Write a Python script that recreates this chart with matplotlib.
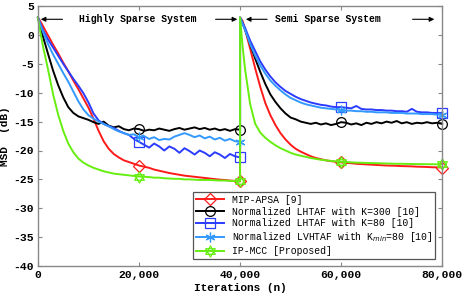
import numpy as np
import matplotlib
matplotlib.use("Agg")
from matplotlib import pyplot as plt
from matplotlib.path import Path

# iteration grid for one system (the second system is shifted by 40,000)
n_seg = [0, 500] + list(range(1000, 40001, 1000))

# MSD (dB), first system then second system
mip_apsa_1 = [3.0, 2.3, 1.5, -0.1, -1.7, -3.2, -4.8, -6.3, -7.9, -9.4, -11.0, -12.6, -14.5, -16.6,
              -18.4, -19.7, -20.6, -21.2, -21.7, -22.0, -22.3, -22.6, -22.8, -23.0, -23.3, -23.5,
              -23.7, -23.9, -24.05, -24.2, -24.35, -24.45, -24.55, -24.65, -24.75, -24.85, -24.95,
              -25.05, -25.1, -25.2, -25.25, -25.35]
mip_apsa_2 = [3.0, 2.4, 0.9, -2.4, -5.8, -9.0, -11.8, -13.9, -15.6, -17.0, -18.1, -19.0, -19.7, -20.2,
              -20.6, -21.0, -21.3, -21.5, -21.7, -21.85, -21.95, -22.05, -22.15, -22.2, -22.3, -22.35,
              -22.4, -22.45, -22.5, -22.55, -22.6, -22.62, -22.65, -22.7, -22.72, -22.75, -22.8,
              -22.82, -22.85, -22.9, -22.92, -22.95]

lhtaf300_1 = [3.0, 1.3, -0.3, -3.3, -6.2, -8.7, -10.8, -12.5, -13.5, -14.1, -14.4, -14.7, -15.1, -15.4,
              -15.0, -15.7, -16.0, -15.8, -16.3, -16.5, -16.2, -16.3, -16.6, -16.4, -16.5, -16.2,
              -16.4, -16.6, -16.3, -16.1, -16.4, -16.2, -16.0, -16.3, -16.1, -16.4, -16.2, -16.5,
              -16.3, -16.6, -16.3, -16.4]
lhtaf300_2 = [3.0, 2.0, 0.9, -1.6, -4.1, -6.4, -8.5, -10.3, -11.6, -12.7, -13.6, -14.3, -14.6, -15.0,
              -15.2, -15.4, -15.2, -15.5, -15.3, -15.6, -15.4, -15.1, -15.2, -15.5, -15.3, -15.6,
              -15.2, -15.4, -15.1, -15.3, -15.0, -15.2, -14.9, -15.3, -15.1, -15.4, -15.2, -15.3,
              -15.1, -15.3, -15.2, -15.4]

lhtaf80_1 = [3.0, 1.9, 0.8, -0.8, -2.2, -3.6, -5.0, -6.3, -7.6, -8.8, -10.1, -11.7, -13.6, -14.8,
             -15.4, -15.8, -16.1, -16.6, -17.0, -17.3, -18.0, -18.5, -19.0, -19.5, -18.8, -19.3,
             -20.0, -19.3, -19.7, -20.4, -19.6, -20.1, -20.7, -20.0, -20.4, -21.0, -20.3, -20.7,
             -21.3, -20.6, -21.0, -21.2]
lhtaf80_2 = [3.0, 2.1, 1.2, -1.0, -2.8, -4.6, -6.0, -7.2, -8.2, -9.0, -9.7, -10.2, -10.7, -11.1,
             -11.4, -11.7, -11.9, -12.1, -12.2, -12.4, -12.5, -12.5, -12.6, -12.7, -12.3, -12.8,
             -12.9, -12.9, -13.0, -13.0, -13.1, -13.1, -13.2, -13.2, -13.3, -12.8, -13.3, -13.4,
             -13.4, -13.5, -13.5, -13.5]

lvhtaf_1 = [3.0, 1.7, 0.5, -1.6, -3.4, -5.0, -6.6, -8.1, -9.8, -11.5, -12.9, -13.9, -14.5, -15.0,
            -15.4, -15.8, -16.3, -16.7, -17.0, -17.3, -17.2, -17.7, -17.5, -18.0, -17.7, -18.2,
            -18.0, -18.1, -17.6, -17.3, -17.0, -17.3, -17.7, -17.4, -17.9, -17.6, -18.1, -17.8,
            -18.3, -18.0, -18.4, -18.5]
lvhtaf_2 = [3.0, 1.9, 0.8, -1.6, -3.6, -5.3, -6.7, -7.9, -8.8, -9.6, -10.3, -10.9, -11.3, -11.7,
            -12.0, -12.2, -12.4, -12.6, -12.7, -12.8, -12.9, -13.0, -13.1, -13.1, -13.2, -13.2,
            -13.3, -13.3, -13.4, -13.4, -13.4, -13.5, -13.5, -13.5, -13.6, -13.6, -13.6, -13.7,
            -13.7, -13.7, -13.8, -13.8]

ipmcc_1 = [3.0, 0.3, -2.0, -6.0, -10.3, -13.8, -16.6, -18.8, -20.3, -21.4, -22.1, -22.6, -23.0, -23.3,
           -23.6, -23.8, -24.0, -24.1, -24.2, -24.3, -24.4, -24.5, -24.55, -24.6, -24.7, -24.7,
           -24.8, -24.85, -24.9, -24.9, -25.0, -25.0, -25.05, -25.1, -25.1, -25.1, -25.15, -25.2,
           -25.2, -25.25, -25.3, -25.3]
ipmcc_2 = [3.0, -2.0, -6.0, -12.0, -15.4, -16.9, -17.8, -18.5, -19.1, -19.6, -20.0, -20.4, -20.7, -20.9,
           -21.1, -21.3, -21.45, -21.6, -21.7, -21.8, -21.9, -21.95, -22.0, -22.05, -22.1, -22.12,
           -22.15, -22.18, -22.2, -22.22, -22.25, -22.27, -22.3, -22.3, -22.32, -22.34, -22.35,
           -22.36, -22.37, -22.38, -22.39, -22.4]

labels = ['MIP-APSA [9]',
          'Normalized LHTAF with K=300 [10]',
          'Normalized LHTAF with K=80 [10]',
          'Normalized LVHTAF with K$_{min}$=80 [10]',
          'IP-MCC [Proposed]']
x_ticks = [0, 20000, 40000, 60000, 80000]
x_tick_labels = ['0', '20,000', '40,000', '60,000', '80,000']
y_ticks = list(range(-40, 6, 5))

plt.rcParams['axes.unicode_minus'] = False
mono = 'Liberation Mono'

# star of David marker for IP-MCC
h = 1.0
tri_up = [(0, h), (-0.866 * h, -0.5 * h), (0.866 * h, -0.5 * h), (0, h)]
tri_dn = [(0, -h), (-0.866 * h, 0.5 * h), (0.866 * h, 0.5 * h), (0, -h)]
codes = [Path.MOVETO, Path.LINETO, Path.LINETO, Path.CLOSEPOLY]
hexagram = Path(tri_up + tri_dn, codes + codes)

n = np.array(n_seg + [v + 40000 for v in n_seg])
series = [
    (mip_apsa_1 + mip_apsa_2, '#ff1a1a', 'D', 6.5),
    (lhtaf300_1 + lhtaf300_2, 'black', 'o', 7),
    (lhtaf80_1 + lhtaf80_2, '#2b3cff', 's', 6.5),
    (lvhtaf_1 + lvhtaf_2, '#3399ff', (6, 2, 0), 7),
    (ipmcc_1 + ipmcc_2, '#66ee11', hexagram, 8),
]
mark_at = [21, 41, 63, 83]

fig, ax = plt.subplots(figsize=(4.63, 3.0), dpi=100)
fig.subplots_adjust(left=0.082, right=0.955, top=0.98, bottom=0.113)

for (vals, col, mk, ms), lab in zip(series, labels):
    ax.plot(n, vals, color=col, lw=1.4, marker=mk, ms=ms, markevery=mark_at,
            markerfacecolor='none', markeredgecolor=col, markeredgewidth=0.9,
            label=lab, clip_on=False)

ax.set_xlim(0, 80000)
ax.set_ylim(-40, 5)
ax.set_xticks(x_ticks)
ax.set_xticklabels(x_tick_labels)
ax.set_yticks(y_ticks)
for lab in ax.get_xticklabels() + ax.get_yticklabels():
    lab.set_family(mono)
    lab.set_weight('bold')
    lab.set_fontsize(8.2)
ax.tick_params(direction='in', length=3, color='#888888', top=True, right=True, pad=3)
for sp in ax.spines.values():
    sp.set_color('#888888')
    sp.set_linewidth(1.0)

ax.set_xlabel('Iterations (n)', family=mono, weight='bold', fontsize=8, labelpad=2)
ax.set_ylabel('MSD  (dB)', family=mono, weight='bold', fontsize=8, labelpad=2)

# system annotations
arrow = dict(arrowstyle='-|>', color='black', lw=0.8, mutation_scale=7)
ax.annotate('', xy=(0, 2.7), xytext=(5400, 2.7), arrowprops=arrow)
ax.annotate('', xy=(40000, 2.7), xytext=(34600, 2.7), arrowprops=arrow)
ax.annotate('', xy=(40600, 2.7), xytext=(45900, 2.7), arrowprops=arrow)
ax.annotate('', xy=(79000, 2.7), xytext=(73600, 2.7), arrowprops=arrow)
ax.text(19800, 2.7, 'Highly Sparse System', family=mono, weight='bold', fontsize=7,
        ha='center', va='center')
ax.text(57400, 2.7, 'Semi Sparse System', family=mono, weight='bold', fontsize=7,
        ha='center', va='center')

leg = ax.legend(loc='lower right', prop={'family': mono, 'size': 7}, handlelength=2.9,
                labelspacing=0.2, borderaxespad=0.7, borderpad=0.3, fancybox=False,
                framealpha=1, edgecolor='#555555', handletextpad=0.8)
leg.get_frame().set_linewidth(0.9)

fig.savefig('out.png', dpi=100)
